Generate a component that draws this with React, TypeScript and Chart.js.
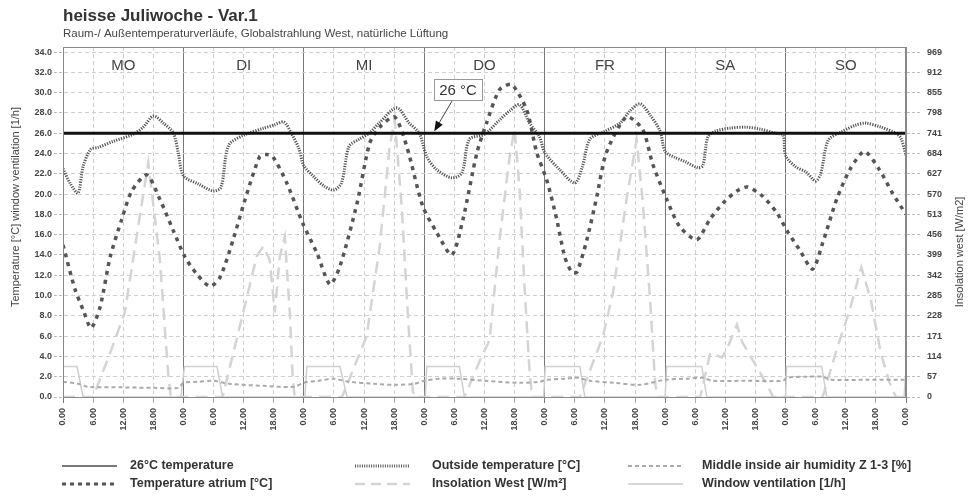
import React, { useEffect, useRef } from "react";
import { Chart, registerables } from "chart.js";

Chart.register(...registerables);

// ---------- DATA ----------
const dayLabels = ["MO", "DI", "MI", "DO", "FR", "SA", "SO"];
const hourTickLabels = ["0.00", "6.00", "12.00", "18.00"];
const hourTicks = [0, 6, 12, 18, 24, 30, 36, 42, 48, 54, 60, 66, 72, 78, 84, 90, 96, 102, 108, 114, 120, 126, 132, 138, 144, 150, 156, 162, 168];
const leftTicks = [0, 2, 4, 6, 8, 10, 12, 14, 16, 18, 20, 22, 24, 26, 28, 30, 32, 34];
const rightTicks = [0, 57, 114, 171, 228, 285, 342, 399, 456, 513, 570, 627, 684, 741, 798, 855, 912, 969];

const limitHours = [0, 168];
const limitValues = [26, 26];

const outsideHours = [0, 1.5, 3, 4, 5.5, 7, 10, 14, 16, 18, 20, 22, 23, 24, 27, 30, 31.5, 33, 36, 40, 42, 44, 45.5, 47, 48, 50, 52, 54, 55.5, 57, 59, 61, 63, 66.5, 69, 71, 72.5, 74.5, 77.5, 79.5, 81, 84, 87, 89, 91, 93, 95, 96, 99, 102, 103.5, 105, 108, 111, 113, 115, 117, 119, 120, 122, 124, 126.5, 127.5, 128.5, 130, 133, 136, 139, 142, 143.5, 144, 146, 148, 150, 151, 152.5, 155, 158, 160, 163, 166, 167, 168];
const outsideTemp = [22.5, 21.0, 20.1, 22.7, 24.4, 24.6, 25.2, 25.9, 26.6, 27.7, 27.0, 26.0, 24.0, 21.8, 21.0, 20.3, 20.7, 24.8, 25.8, 26.5, 26.8, 27.1, 26.0, 24.5, 22.8, 21.7, 20.8, 20.4, 21.1, 24.7, 25.4, 26.0, 27.0, 28.5, 27.0, 26.0, 23.7, 22.4, 21.6, 22.1, 25.4, 25.9, 27.3, 28.2, 28.8, 27.0, 25.6, 24.1, 22.4, 21.1, 22.7, 25.4, 26.2, 27.0, 28.2, 28.9, 27.8, 26.2, 24.2, 23.6, 23.2, 22.6, 22.8, 25.6, 26.2, 26.5, 26.6, 26.4, 26.0, 25.8, 23.8, 22.7, 22.2, 21.3, 22.0, 25.3, 26.1, 26.8, 27.0, 26.6, 26.0, 25.5, 23.8];

const atriumHours = [0, 2.4, 4, 5.6, 7.4, 9.4, 11.7, 13.7, 16.7, 19.3, 21.9, 24.3, 26.7, 29.3, 31.3, 33.9, 36.3, 39.2, 40.5, 41.8, 44.6, 47.8, 50.6, 53.2, 55.2, 58.6, 61.1, 63.1, 66.1, 68.5, 71.7, 74.5, 77.5, 79.7, 82.5, 84.4, 87, 89.4, 92.4, 94.4, 96.4, 98.4, 100, 101.4, 102.4, 104.4, 106.4, 108.3, 112.3, 115.5, 117.5, 120.3, 122.9, 126.3, 128.9, 131.5, 134.3, 136.4, 139.4, 142.2, 144.4, 146.8, 149.4, 151.4, 154.2, 156.8, 159.7, 162.7, 165.3, 168];
const atriumTemp = [15.0, 10.6, 8.6, 6.8, 8.9, 13.8, 17.5, 20.3, 21.9, 19.5, 16.5, 13.8, 12.1, 10.9, 11.8, 15.5, 19.5, 23.7, 23.9, 23.7, 21.1, 17.1, 14.2, 11.1, 12.9, 19.1, 25.0, 26.6, 27.6, 24.7, 18.8, 16.2, 14.0, 17.5, 24.1, 27.0, 30.3, 30.8, 28.3, 24.1, 21.4, 17.5, 13.8, 12.3, 12.3, 15.5, 19.8, 24.1, 27.6, 26.4, 23.0, 19.5, 16.8, 15.5, 17.5, 19.1, 20.3, 20.7, 19.8, 18.2, 16.3, 14.5, 12.6, 15.2, 19.5, 22.4, 24.2, 22.4, 20.1, 18.0];

const insolationHours = [0, 6, 9.4, 12.3, 15.3, 17, 19.3, 21, 21.5, 31.8, 35.9, 38.6, 39.9, 41.2, 42.2, 43.2, 44.2, 45.2, 45.8, 46.2, 55.6, 60.5, 63.1, 65.1, 66.1, 67.5, 68.7, 69.7, 70, 80, 83, 85, 87, 89, 90, 91, 92, 93, 93.5, 103, 107.6, 109.6, 112.3, 114.3, 115.5, 117, 118, 118.5, 127, 129, 131.3, 132.3, 134.3, 135.4, 138.2, 140.8, 141.5, 151.4, 154.2, 156.8, 159.1, 161, 163, 164.7, 166, 168];
const insolationWest = [0, 0, 124, 237, 507, 658, 386, 58, 0, 0, 237, 395, 423, 385, 237, 395, 450, 237, 48, 0, 0, 170, 422, 704, 779, 535, 237, 20, 0, 0, 100, 160, 442, 675, 752, 582, 302, 68, 0, 0, 170, 293, 555, 723, 555, 274, 40, 0, 0, 124, 111, 134, 203, 153, 86, 21, 0, 0, 134, 245, 364, 273, 122, 41, 0, 0];

const humidityHours = [0, 3, 5, 12, 18, 23, 24, 27, 30, 33, 40, 46, 48, 51, 54, 57, 62, 66, 70, 72, 75, 79, 84, 91, 95, 96.4, 100, 102.4, 105, 110, 115, 120, 124, 127.5, 129.3, 136, 143.5, 144.2, 148, 151.4, 153, 160, 168];
const humidityValues = [1.5, 1.3, 1.0, 0.95, 0.9, 0.9, 1.4, 1.5, 1.6, 1.3, 1.1, 1.0, 1.4, 1.6, 1.8, 1.5, 1.3, 1.2, 1.3, 1.6, 1.8, 1.8, 1.6, 1.4, 1.5, 1.7, 1.8, 1.9, 1.6, 1.4, 1.2, 1.7, 1.8, 1.9, 1.6, 1.6, 1.6, 1.9, 2.0, 2.0, 1.7, 1.7, 1.7];

const ventilationHours = [0, 2.8, 4, 23.5, 24.2, 30.7, 31.8, 48.2, 48.6, 55.2, 56.6, 72.2, 72.5, 79, 80, 95.8, 96.1, 103, 104, 120, 120.3, 127.3, 128.3, 144, 144.2, 151.2, 152.2, 167.6, 168];
const ventilationValues = [3.0, 3.0, 0, 0, 3.0, 3.0, 0, 0, 3.0, 3.0, 0, 0, 3.0, 3.0, 0, 0, 3.0, 3.0, 0, 0, 3.0, 3.0, 0, 0, 3.0, 3.0, 0, 0, 2.5];

// ---------- STYLE ----------
const SANS = "'Liberation Sans', Arial, sans-serif";
const NARROW = "'Liberation Sans Narrow', 'Liberation Sans', Arial, sans-serif";

const pts = (hs: number[], vs: number[]) => hs.map((h, i) => ({ x: h, y: vs[i] }));

const legendItems = [
  { label: "26°C temperature", col: 0, row: 0, color: "#777", width: 2, dash: [] as number[] },
  { label: "Temperature atrium [°C]", col: 0, row: 1, color: "#555", width: 3, dash: [4, 4] },
  { label: "Outside temperature [°C]", col: 1, row: 0, color: "#555", width: 3, dash: [1, 1.3] },
  { label: "Insolation West [W/m²]", col: 1, row: 1, color: "#d4d4d4", width: 2.5, dash: [10, 6] },
  { label: "Middle inside air humidity Z 1-3 [%]", col: 2, row: 0, color: "#aaa", width: 2, dash: [4, 3] },
  { label: "Window ventilation [1/h]", col: 2, row: 1, color: "#ccc", width: 1.5, dash: [] as number[] },
];
const legendColX = [62, 355, 628];
const legendTextX = [130, 432, 702];
const legendRowY = [466, 484];

const overlayPlugin = {
  id: "overlay",
  afterDraw(chart: any) {
    const { ctx, chartArea: ca, scales } = chart;
    const xs = scales.x;
    const ys = scales.y;
    ctx.save();
    // plot frame
    ctx.strokeStyle = "#888";
    ctx.lineWidth = 1;
    ctx.setLineDash([]);
    ctx.strokeRect(ca.left + 0.5, ca.top + 0.5, ca.right - ca.left - 1, ca.bottom - ca.top);

    // title & subtitle
    ctx.fillStyle = "#333";
    ctx.textAlign = "left";
    ctx.textBaseline = "alphabetic";
    ctx.font = `bold 17px ${SANS}`;
    ctx.fillText("heisse Juliwoche - Var.1", 63, 21);
    ctx.fillStyle = "#444";
    ctx.font = `11.5px ${SANS}`;
    ctx.fillText("Raum-/ Außentemperaturverläufe, Globalstrahlung West, natürliche Lüftung", 63, 37);

    // day labels
    ctx.font = `15px ${SANS}`;
    ctx.fillStyle = "#444";
    ctx.textAlign = "center";
    ctx.textBaseline = "middle";
    dayLabels.forEach((d, i) => {
      const cx = xs.getPixelForValue(i * 24 + 12);
      ctx.fillText(d, cx, 66);
    });

    // axis titles
    ctx.font = `11px ${SANS}`;
    ctx.fillStyle = "#444";
    ctx.save();
    ctx.translate(16, 207);
    ctx.rotate(-Math.PI / 2);
    ctx.fillText("Temperature [°C] window ventilation [1/h]", 0, 0);
    ctx.restore();
    ctx.save();
    ctx.translate(960, 252);
    ctx.rotate(-Math.PI / 2);
    ctx.fillText("Insolation west [W/m2]", 0, 0);
    ctx.restore();

    // annotation 26 °C
    const ax = xs.getPixelForValue(72) + 10;
    const ay = ys.getPixelForValue(26);
    const bx = 434, by = 79, bw = 48, bh = 21;
    ctx.fillStyle = "#fff";
    ctx.fillRect(bx, by, bw, bh);
    ctx.strokeStyle = "#999";
    ctx.lineWidth = 1;
    ctx.strokeRect(bx + 0.5, by + 0.5, bw, bh);
    ctx.fillStyle = "#333";
    ctx.font = `15px ${SANS}`;
    ctx.fillText("26 °C", bx + bw / 2, by + bh / 2 + 1);
    const sx = 452, sy = by + bh + 1;
    const ex = ax, ey = ay - 2;
    const ang = Math.atan2(ey - sy, ex - sx);
    ctx.strokeStyle = "#444";
    ctx.beginPath();
    ctx.moveTo(sx, sy);
    ctx.lineTo(ex - 8 * Math.cos(ang), ey - 8 * Math.sin(ang));
    ctx.stroke();
    ctx.fillStyle = "#111";
    ctx.beginPath();
    ctx.moveTo(ex, ey);
    ctx.lineTo(ex - 10 * Math.cos(ang) + 4 * Math.sin(ang), ey - 10 * Math.sin(ang) - 4 * Math.cos(ang));
    ctx.lineTo(ex - 10 * Math.cos(ang) - 4 * Math.sin(ang), ey - 10 * Math.sin(ang) + 4 * Math.cos(ang));
    ctx.closePath();
    ctx.fill();

    // legend
    ctx.textAlign = "left";
    ctx.textBaseline = "middle";
    ctx.font = `bold 12.5px ${NARROW}`;
    legendItems.forEach((it) => {
      const y = legendRowY[it.row];
      const x0 = legendColX[it.col];
      ctx.strokeStyle = it.color;
      ctx.lineWidth = it.width;
      ctx.setLineDash(it.dash);
      ctx.beginPath();
      ctx.moveTo(x0, y);
      ctx.lineTo(x0 + 55, y);
      ctx.stroke();
      ctx.setLineDash([]);
      ctx.fillStyle = "#333";
      ctx.fillText(it.label, legendTextX[it.col], y);
    });
    ctx.restore();
  },
};

const isDay = (v: number) => Math.abs(v % 24) < 1e-6;

export default function App() {
  const ref = useRef<HTMLCanvasElement | null>(null);
  useEffect(() => {
    if (!ref.current) return;
    const chart = new Chart(ref.current, {
      type: "line",
      data: {
        datasets: [
          { label: "26°C temperature", data: pts(limitHours, limitValues), borderColor: "#111", borderWidth: 2.8, pointRadius: 0, yAxisID: "y" },
          { label: "Temperature atrium [°C]", data: pts(atriumHours, atriumTemp), borderColor: "#555", borderWidth: 3.5, borderDash: [4, 5], pointRadius: 0, tension: 0.25, yAxisID: "y" },
          { label: "Outside temperature [°C]", data: pts(outsideHours, outsideTemp), borderColor: "#555", borderWidth: 3, borderDash: [1.2, 1.3], pointRadius: 0, tension: 0.3, yAxisID: "y" },
          { label: "Middle inside air humidity Z 1-3 [%]", data: pts(humidityHours, humidityValues), borderColor: "#aaa", borderWidth: 2, borderDash: [4, 3], pointRadius: 0, tension: 0.3, yAxisID: "y" },
          { label: "Window ventilation [1/h]", data: pts(ventilationHours, ventilationValues), borderColor: "#cfcfcf", borderWidth: 1.5, pointRadius: 0, yAxisID: "y" },
          { label: "Insolation West [W/m²]", data: pts(insolationHours, insolationWest), borderColor: "#d4d4d4", borderWidth: 2.5, borderDash: [12, 7], pointRadius: 0, yAxisID: "y1" },
        ],
      },
      options: {
        responsive: false,
        animation: false,
        events: [],
        layout: { padding: { top: 47, left: 0, right: 0, bottom: 0 } },
        plugins: { legend: { display: false }, title: { display: false }, tooltip: { enabled: false } },
        scales: {
          x: {
            type: "linear",
            min: 0,
            max: 168,
            position: "bottom",
            afterBuildTicks: (s: any) => { s.ticks = hourTicks.map((v) => ({ value: v })); },
            afterFit: (s: any) => { s.height = 105; },
            ticks: {
              autoSkip: false,
              minRotation: 90,
              maxRotation: 90,
              padding: 5,
              color: "#444",
              font: { size: 9, weight: "bold", family: SANS },
              callback: (v: any) => hourTickLabels[Math.round(Number(v) / 6) % 4],
            },
            grid: {
              color: (c: any) => (c.tick && isDay(c.tick.value) ? "#777" : "#cfcfcf"),
              lineWidth: 1,
              tickLength: 6,
              tickColor: (c: any) => (c.tick && isDay(c.tick.value) ? "#777" : "#aaa"),
            },
            border: {
              display: true,
              color: "#888",
              dash: (c: any) => (c.tick && isDay(c.tick.value) ? [] : [4, 3]),
            },
          },
          y: {
            type: "linear",
            min: 0,
            max: 34.5,
            position: "left",
            afterBuildTicks: (s: any) => { s.ticks = leftTicks.map((v) => ({ value: v })); },
            afterFit: (s: any) => { s.width = 63; },
            ticks: {
              padding: 2,
              color: "#444",
              font: { size: 9, weight: "bold", family: SANS },
              callback: (v: any) => Number(v).toFixed(1),
            },
            grid: { color: "#cfcfcf", lineWidth: 1, tickLength: 9, tickColor: "#bbb", tickBorderDash: [3, 2] },
            border: { display: true, color: "#888", dash: [4, 3] },
          },
          y1: {
            type: "linear",
            min: 0,
            max: 983.25,
            position: "right",
            afterBuildTicks: (s: any) => { s.ticks = rightTicks.map((v) => ({ value: v })); },
            afterFit: (s: any) => { s.width = 65; },
            ticks: {
              padding: 5,
              color: "#444",
              font: { size: 9, weight: "bold", family: SANS },
              callback: (v: any) => String(v),
            },
            grid: { drawOnChartArea: false, color: "#bbb", tickLength: 16, tickColor: "#bbb", tickBorderDash: [3, 2] },
            border: { display: true, color: "#888" },
          },
        },
      },
      plugins: [overlayPlugin],
    } as any);
    return () => chart.destroy();
  }, []);

  return (
    <div style={{ position: "absolute", left: 0, top: 0, width: 971, height: 502, background: "#fff" }}>
      <canvas ref={ref} width={971} height={502} style={{ width: 971, height: 502, display: "block" }} />
    </div>
  );
}
